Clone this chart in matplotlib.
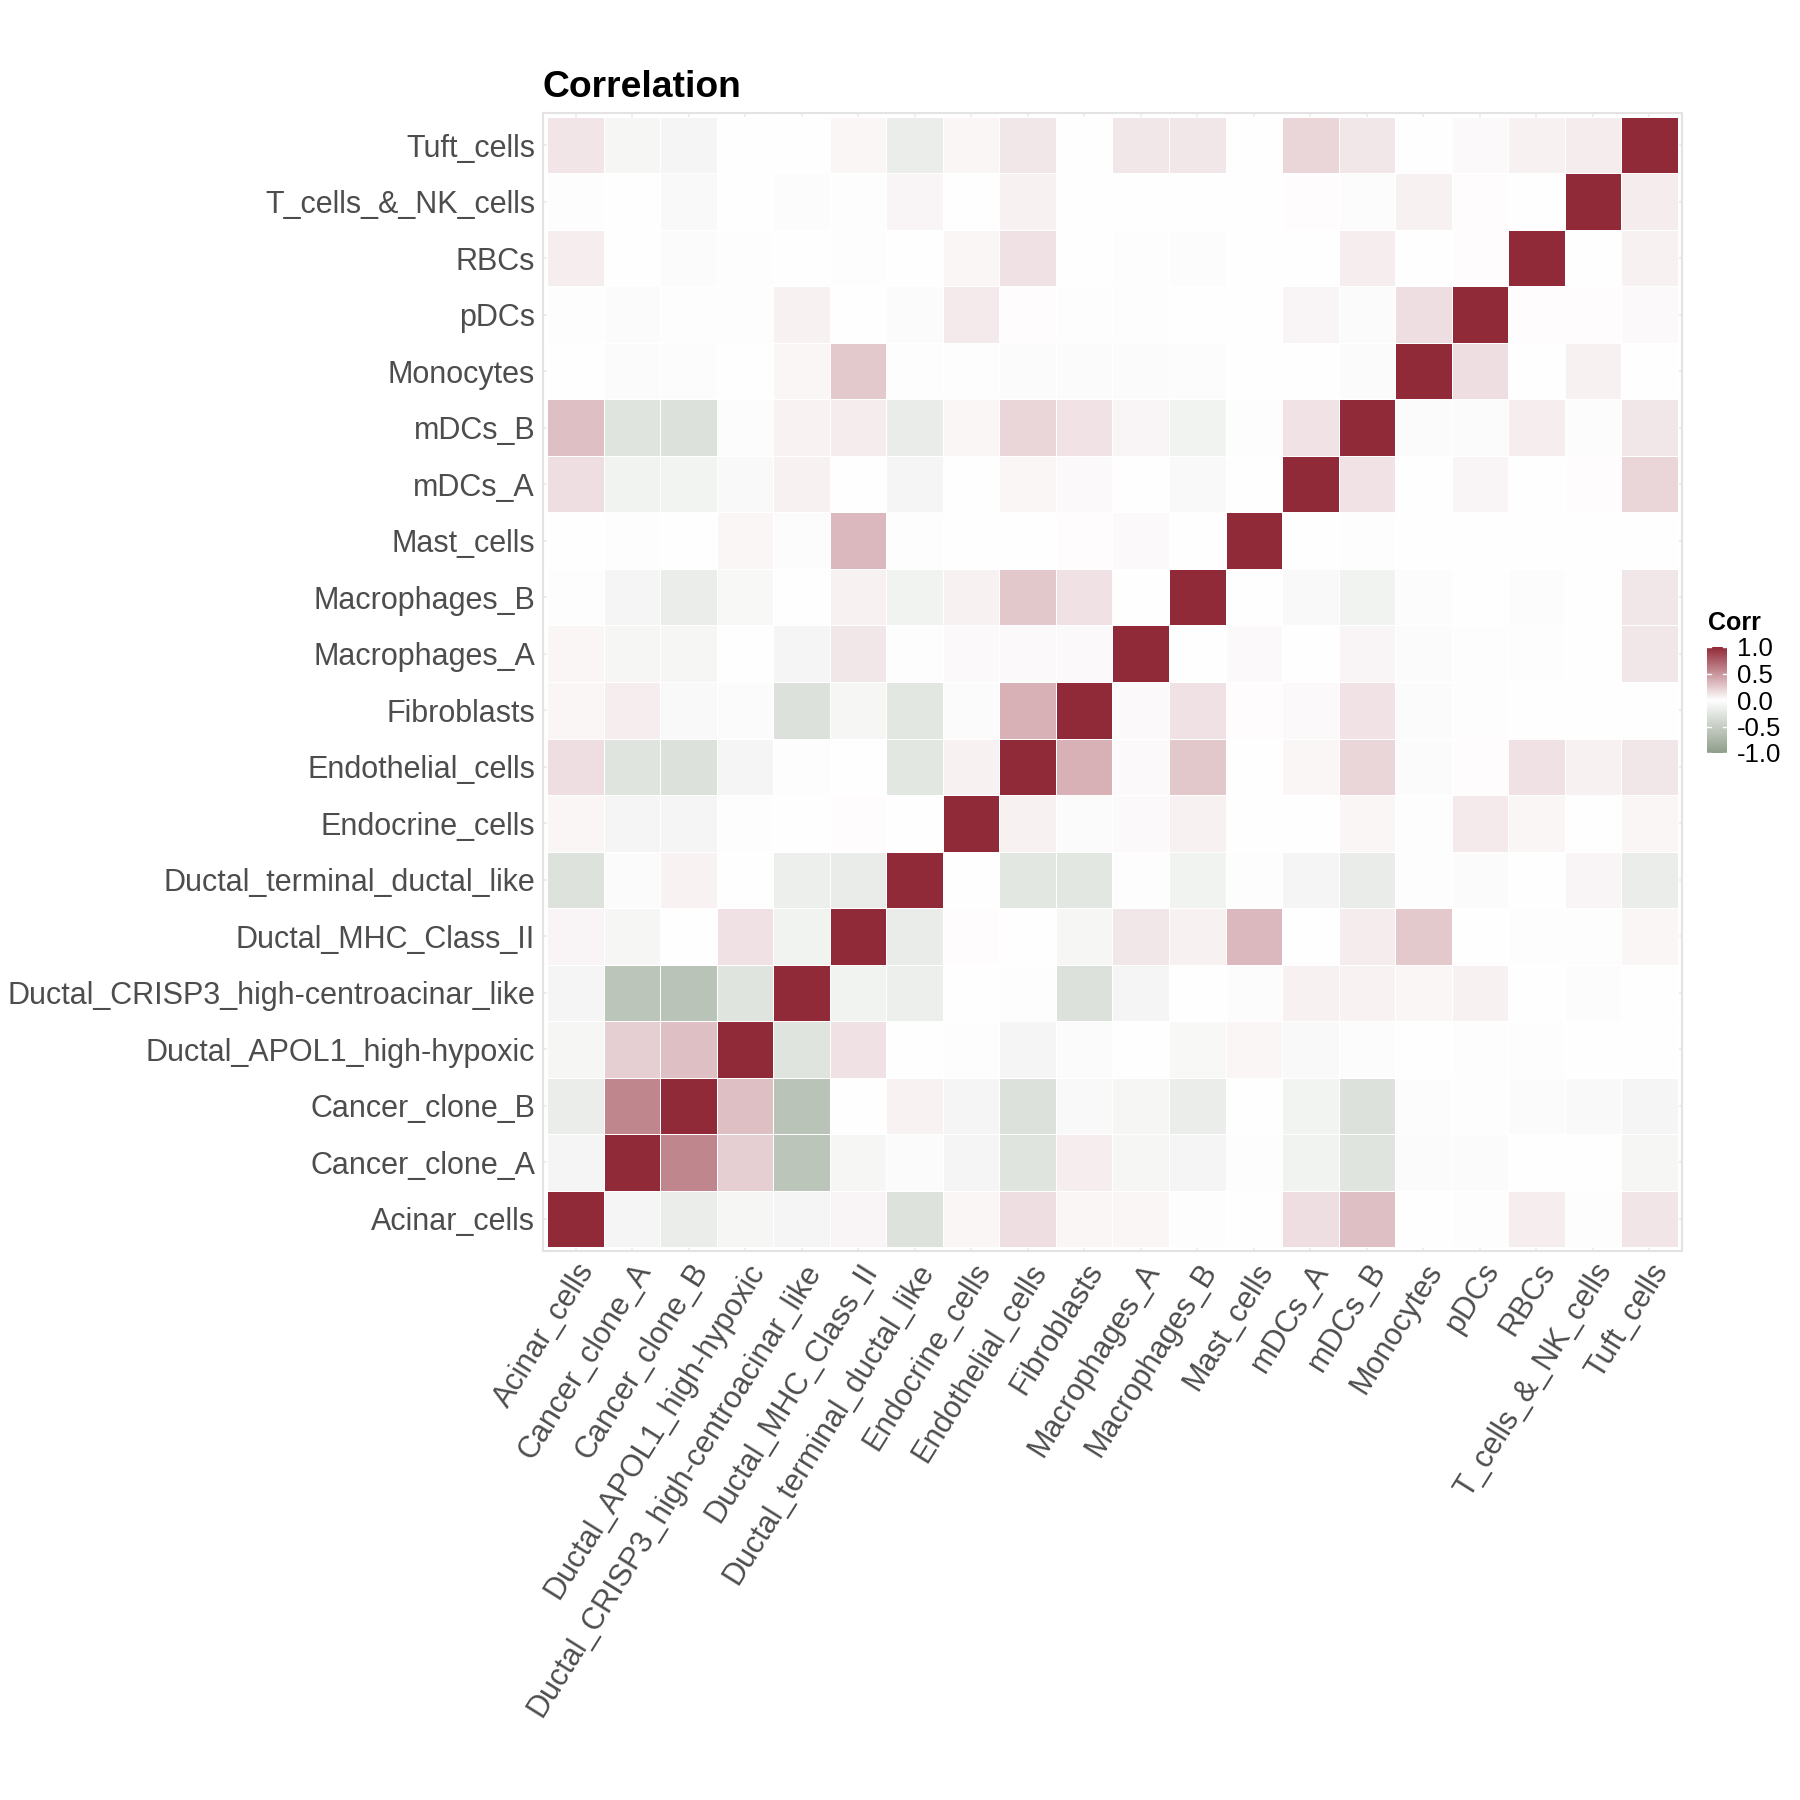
import numpy as np
import matplotlib
matplotlib.use("Agg")
import matplotlib.pyplot as plt
from matplotlib.colors import LinearSegmentedColormap, Normalize

plt.rcParams['font.family'] = ['Liberation Sans', 'DejaVu Sans']

# cell types, bottom-to-top on y and left-to-right on x
cell_types = ["Acinar_cells", "Cancer_clone_A", "Cancer_clone_B",
              "Ductal_APOL1_high-hypoxic", "Ductal_CRISP3_high-centroacinar_like",
              "Ductal_MHC_Class_II", "Ductal_terminal_ductal_like", "Endocrine_cells",
              "Endothelial_cells", "Fibroblasts", "Macrophages_A", "Macrophages_B",
              "Mast_cells", "mDCs_A", "mDCs_B", "Monocytes", "pDCs", "RBCs",
              "T_cells_&_NK_cells", "Tuft_cells"]

# lower triangle of the correlation matrix (row i holds corr with cells 0..i-1)
corr_lower = [
    [],
    [-0.10],
    [-0.18, 0.57],
    [-0.08, 0.22, 0.30],
    [-0.10, -0.60, -0.62, -0.28],
    [0.05, -0.08, 0.00, 0.14, -0.12],
    [-0.30, -0.04, 0.06, 0.00, -0.16, -0.20],
    [0.04, -0.10, -0.10, -0.02, 0.00, 0.01, 0.00],
    [0.15, -0.28, -0.31, -0.10, -0.02, 0.00, -0.25, 0.07],
    [0.04, 0.08, -0.06, -0.04, -0.31, -0.08, -0.25, -0.04, 0.36],
    [0.04, -0.08, -0.08, 0.00, -0.10, 0.11, -0.02, 0.03, 0.03, 0.03],
    [-0.02, -0.10, -0.18, -0.07, 0.00, 0.07, -0.12, 0.07, 0.26, 0.14, 0.00],
    [-0.01, -0.02, 0.00, 0.04, -0.03, 0.33, -0.02, 0.00, 0.00, 0.01, 0.03, 0.00],
    [0.15, -0.12, -0.11, -0.06, 0.07, 0.00, -0.10, 0.00, 0.04, 0.03, 0.00, -0.06, 0.00],
    [0.30, -0.28, -0.31, -0.03, 0.06, 0.09, -0.19, 0.04, 0.19, 0.13, 0.05, -0.12, -0.02, 0.13],
    [0.00, -0.04, -0.03, 0.00, 0.04, 0.25, -0.02, -0.02, -0.04, -0.04, -0.04, -0.03, 0.00, 0.00, -0.04],
    [-0.02, -0.04, -0.02, -0.02, 0.07, 0.00, -0.04, 0.10, 0.01, -0.02, -0.02, 0.00, 0.00, 0.05, -0.04, 0.15],
    [0.08, 0.00, -0.04, -0.02, 0.00, -0.02, 0.00, 0.04, 0.14, 0.00, -0.02, -0.03, 0.00, 0.00, 0.08, 0.00, 0.01],
    [-0.02, 0.00, -0.06, 0.00, -0.03, -0.02, 0.05, 0.00, 0.07, 0.00, 0.00, 0.00, 0.00, 0.01, -0.03, 0.07, 0.01, 0.00],
    [0.12, -0.08, -0.10, 0.00, 0.00, 0.04, -0.18, 0.04, 0.11, 0.00, 0.11, 0.11, 0.00, 0.19, 0.11, 0.00, 0.03, 0.07, 0.09],
]

legend_ticks = [-1.0, -0.5, 0.0, 0.5, 1.0]

n = len(cell_types)
corr = np.eye(n)
for i, row in enumerate(corr_lower):
    for j, v in enumerate(row):
        corr[i, j] = v
        corr[j, i] = v

low_col, mid_col, high_col = "#8F9E8B", "#FFFFFF", "#912A38"
cmap = LinearSegmentedColormap.from_list("corr", [low_col, mid_col, high_col])
norm = Normalize(vmin=-1, vmax=1)

fig = plt.figure(figsize=(18, 18), dpi=100)
ax = fig.add_axes([543 / 1800, 1 - 1251 / 1800, 1139 / 1800, 1138 / 1800])

edges = np.arange(n + 1) - 0.5
ax.pcolormesh(edges, edges, corr, cmap=cmap, norm=norm,
              edgecolors="white", linewidth=0.4, zorder=2)

ax.set_xlim(-0.57, n - 0.43)
ax.set_ylim(-0.57, n - 0.43)
ax.set_aspect("equal")

ax.set_xticks(np.arange(n))
ax.set_yticks(np.arange(n))
ax.grid(True, color="#EBEBEB", linewidth=1.2, zorder=0)
ax.set_axisbelow(True)
ax.tick_params(length=0, colors="#4D4D4D")
ax.set_xticklabels(cell_types, rotation=58, ha="right", va="top",
                   rotation_mode="anchor", fontsize=22, color="#4D4D4D")
ax.set_yticklabels(cell_types, fontsize=22, color="#4D4D4D")
ax.tick_params(axis="x", pad=5)
ax.tick_params(axis="y", pad=6)
for s in ax.spines.values():
    s.set_color("#E3E3E3")
    s.set_linewidth(1.5)

fig.text(543 / 1800, 1 - 97 / 1800, "Correlation", fontsize=26.8, fontweight="bold",
         ha="left", va="baseline", color="black")

# legend colour bar
cax = fig.add_axes([1707 / 1800, 1 - 753 / 1800, 20 / 1800, 106 / 1800])
grad = np.linspace(-1, 1, 256).reshape(-1, 1)
cax.imshow(grad, cmap=cmap, norm=norm, aspect="auto", origin="lower",
           extent=[0, 1, -1, 1])
cax.set_xlim(0, 1)
cax.set_ylim(-1, 1)
cax.set_xticks([])
cax.yaxis.tick_right()
cax.set_yticks(legend_ticks)
cax.set_yticklabels([f"{t:.1f}" for t in legend_ticks], fontsize=18.5, color="black")
cax.tick_params(axis="y", length=0, pad=7)
for t in legend_ticks:
    cax.plot([0, 0.2], [t, t], color="white", lw=1)
    cax.plot([0.8, 1], [t, t], color="white", lw=1)
for s in cax.spines.values():
    s.set_visible(False)
fig.text(1708 / 1800, 1 - 630 / 1800, "Corr", fontsize=18, fontweight="bold",
         ha="left", va="baseline")

fig.savefig("out.png", dpi=100, facecolor="white")
